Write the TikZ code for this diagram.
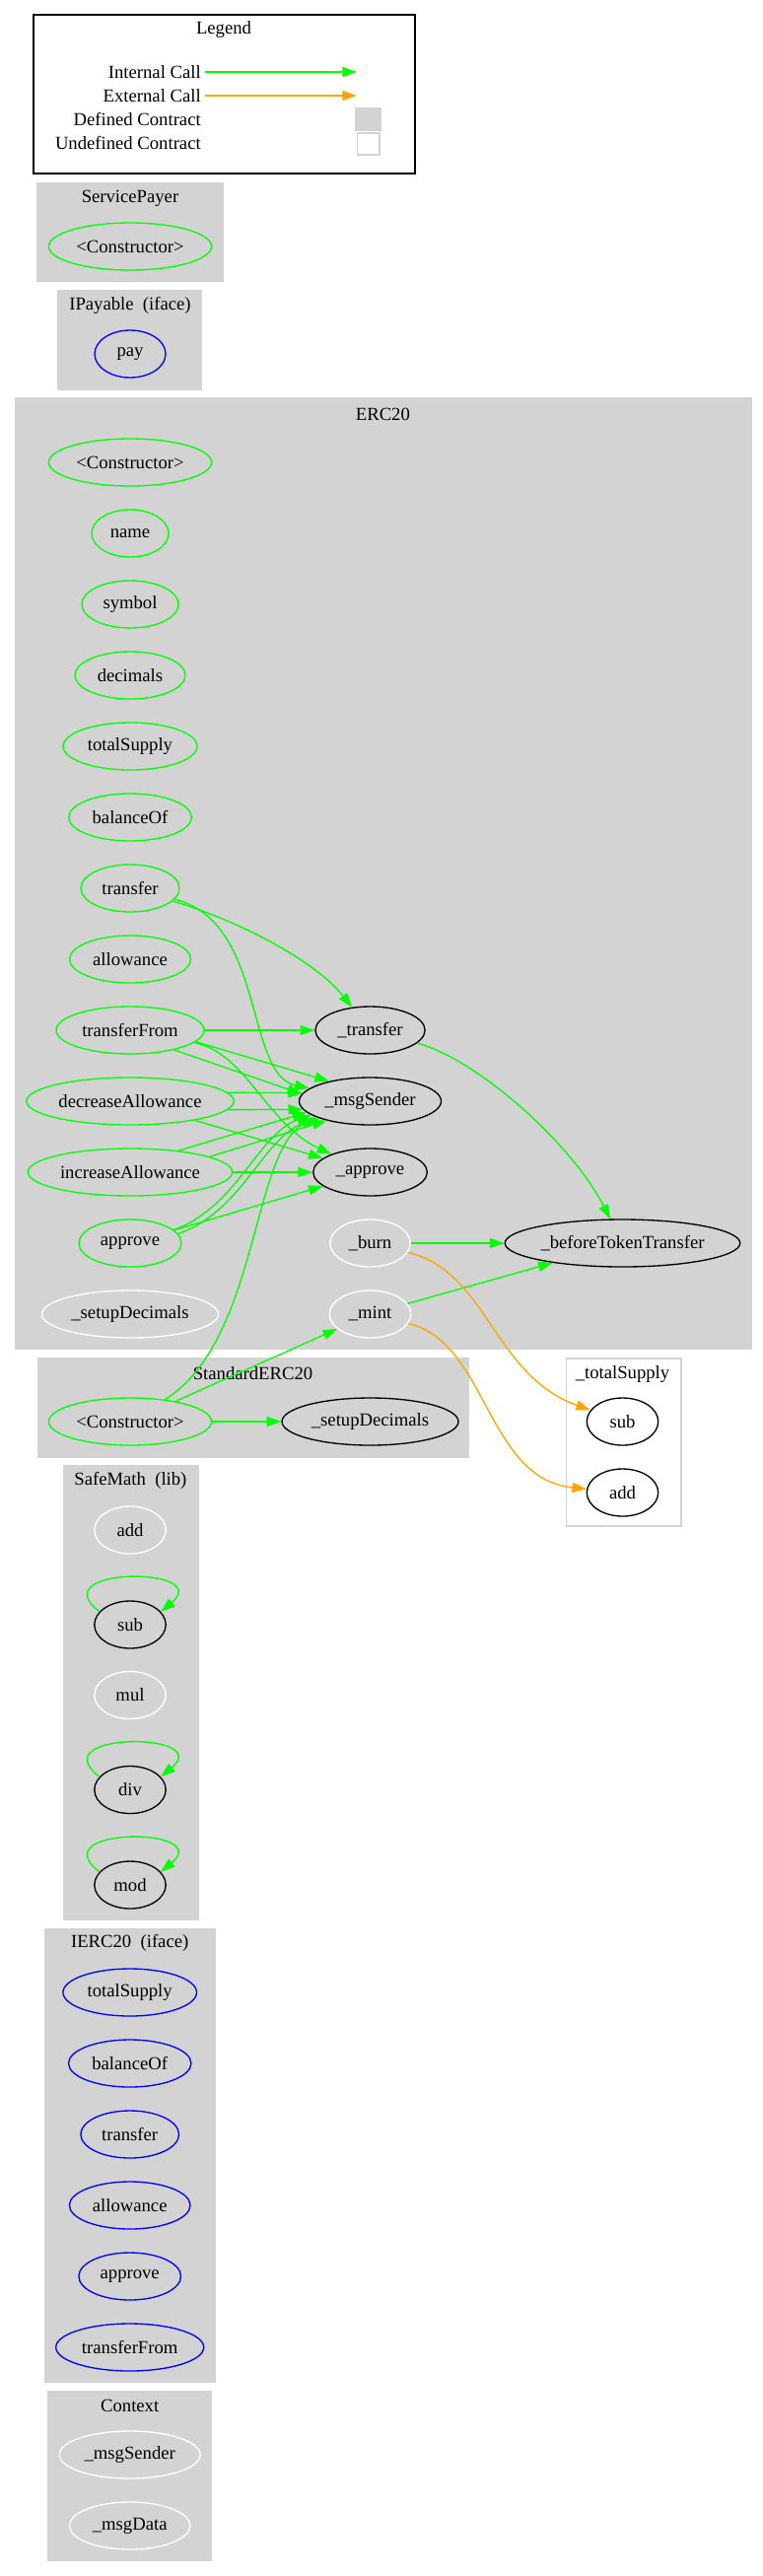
\documentclass[tikz,border=0pt]{standalone}
\usepackage{fontspec}
\setmainfont{Liberation Serif}
\usetikzlibrary{arrows.meta,shapes.geometric}
\definecolor{callgreen}{RGB}{0,255,0}
\definecolor{callorange}{RGB}{255,165,0}
\definecolor{grpgray}{RGB}{211,211,211}
\definecolor{ifblue}{RGB}{0,0,255}

\begin{document}
\begin{tikzpicture}[x=0.75pt, y=-0.75pt,
    fn/.style={ellipse, draw, line width=1pt, minimum height=36pt, inner sep=0pt,
               font=\fontsize{14}{16}\selectfont},
    wd/.style={minimum width={#1*1.5pt}},
    pub/.style={fn, draw=callgreen},
    own/.style={fn, draw=black},
    ifc/.style={fn, draw=ifblue},
    unused/.style={fn, draw=white},
    grp/.style={fill=grpgray, draw=grpgray, line width=1pt},
    lab/.style={font=\fontsize{14}{16}\selectfont, inner sep=0pt},
    call/.style={draw=callgreen, line width=1pt, -{Triangle[length=11pt, width=7.5pt]}},
    xcall/.style={call, draw=callorange}]
  \useasboundingbox (0,0) rectangle (774,2613);

  % legend
  \draw[line width=1pt] (34,15) rectangle (421,176);
  \node[lab] (lgTitle) at (227,30) {Legend};
  \node[lab, anchor=east, inner xsep=3pt] (lgInt)   at (208,73)  {Internal Call};
  \node[lab, anchor=east, inner xsep=3pt] (lgExt)   at (208,97)  {External Call};
  \node[lab, anchor=east, inner xsep=3pt] (lgDef)   at (208,121) {Defined Contract};
  \node[lab, anchor=east, inner xsep=3pt] (lgUndef) at (208,145) {Undefined Contract};
  \coordinate (lgIntEnd) at (362,73);
  \coordinate (lgExtEnd) at (362,97);
  \draw[call]  (lgInt) -- (lgIntEnd);
  \draw[xcall] (lgExt) -- (lgExtEnd);
  \node[fill=grpgray, minimum width=20pt, minimum height=18pt, inner sep=0pt] (lgDefSw) at (373.5,121) {};
  \node[draw=grpgray, line width=1pt, minimum width=17pt, minimum height=16.5pt, inner sep=0pt] (lgUndefSw) at (373.5,146) {};

  % contract boxes
  \draw[grp] (38,186) rectangle (226,285);
  \draw[grp] (59,295) rectangle (204,395);
  \draw[grp] (15.4,404) rectangle (762.4,1368);
  \draw[grp] (38.2,1378) rectangle (475.7,1478);
  \draw[line width=1pt, draw=grpgray, fill=white] (574.4,1378) rectangle (691,1548);
  \draw[grp] (65,1487) rectangle (201,1947);
  \draw[grp] (45.5,1956.5) rectangle (218,2416);
  \draw[grp] (48.7,2425.7) rectangle (214.7,2597);

  \node[lab] (tSP)   at (132,201)      {ServicePayer};
  \node[lab] (tIP)   at (132,310)      {IPayable\ \ (iface)};
  \node[lab] (tERC)  at (388.4,420)    {ERC20};
  \node[lab] (tSERC) at (256.5,1393)   {StandardERC20};
  \node[lab] (tTS)   at (631.5,1394)   {\_totalSupply};
  \node[lab] (tSM)   at (132.4,1502)   {SafeMath\ \ (lib)};
  \node[lab] (tIERC) at (131.7,1971)   {IERC20\ \ (iface)};
  \node[lab] (tCtx)  at (131.7,2440.5) {Context};

  % ServicePayer, IPayable
  \node[pub, wd=82.6] (spCtor) at (132,250) {<Constructor>};
  \node[ifc, wd=36]   (ipPay)  at (132,359) {pay};

  % ERC20
  \node[pub, wd=82.6]  (eCtor)         at (132,469)  {<Constructor>};
  \node[pub, wd=39]    (eName)         at (132,541)  {name};
  \node[pub, wd=49]    (eSymbol)       at (132,613)  {symbol};
  \node[pub, wd=56]    (eDecimals)     at (132,685)  {decimals};
  \node[pub, wd=68]    (eTotal)        at (132,757)  {totalSupply};
  \node[pub, wd=62.3]  (eBalance)      at (132,829)  {balanceOf};
  \node[pub, wd=50]    (eTransfer)     at (132,901)  {transfer};
  \node[pub, wd=61.5]  (eAllowance)    at (132,973)  {allowance};
  \node[pub, wd=75]    (eTransferFrom) at (132,1045) {transferFrom};
  \node[pub, wd=105.2] (eDecrease)     at (132,1117) {decreaseAllowance};
  \node[pub, wd=103.7] (eIncrease)     at (132,1189) {increaseAllowance};
  \node[pub, wd=52]    (eApprove)      at (132,1261) {approve};
  \node[unused, wd=89.5] (eSetup)      at (132,1333) {\_setupDecimals};
  \node[own, wd=55.6]  (eUTransfer)    at (375.5,1045) {\_transfer};
  \node[own, wd=72]    (eMsgSender)    at (375.5,1117) {\_msgSender};
  \node[own, wd=57.8]  (eUApprove)     at (375.5,1189) {\_approve};
  \node[unused, wd=40.7] (eBurn)       at (375.5,1261) {\_burn};
  \node[unused, wd=41.2] (eMint)       at (375.5,1333) {\_mint};
  \node[own, wd=119.3] (eBefore)       at (631.5,1261) {\_beforeTokenTransfer};

  % StandardERC20, _totalSupply
  \node[pub, wd=82.6] (sCtor)  at (132,1442)   {<Constructor>};
  \node[own, wd=89.5] (sSetup) at (375.5,1442) {\_setupDecimals};
  \node[own, wd=36.2] (tsSub)  at (631.5,1442) {sub};
  \node[own, wd=36.2] (tsAdd)  at (631.5,1514) {add};

  % SafeMath
  \node[unused, wd=36.2] (mAdd) at (132,1552)   {add};
  \node[own, wd=36.2]    (mSub) at (132,1648)   {sub};
  \node[unused, wd=36.2] (mMul) at (132,1719.5) {mul};
  \node[own, wd=36.2]    (mDiv) at (132,1815.5) {div};
  \node[own, wd=36.2]    (mMod) at (132,1912)   {mod};

  % IERC20, Context
  \node[ifc, wd=67.8] (iTotal)        at (131.7,2021) {totalSupply};
  \node[ifc, wd=62.2] (iBalance)      at (131.7,2093) {balanceOf};
  \node[ifc, wd=49.8] (iTransfer)     at (131.7,2165) {transfer};
  \node[ifc, wd=61.3] (iAllowance)    at (131.7,2237) {allowance};
  \node[ifc, wd=51.8] (iApprove)      at (131.7,2309) {approve};
  \node[ifc, wd=75]   (iTransferFrom) at (131.7,2381) {transferFrom};
  \node[unused, wd=71.5] (cMsgSender) at (131.7,2490) {\_msgSender};
  \node[unused, wd=61.3] (cMsgData)   at (131.7,2562) {\_msgData};

  % internal calls
  \draw[call] (eTransfer) .. controls (245,935) and (320,975) .. (eUTransfer);
  \draw[call] (eTransfer) .. controls (270,935) and (248,1090) .. (eMsgSender);
  \draw[call] (eTransferFrom) -- (eUTransfer);
  \draw[call] (eTransferFrom.-10) -- (eMsgSender.154);
  \draw[call] (eTransferFrom.-24) -- (eMsgSender.174);
  \draw[call] (eTransferFrom) .. controls (250,1068) and (270,1140) .. (eUApprove);
  \draw[call] (eDecrease.5) -- (eMsgSender.173);
  \draw[call] (eDecrease.-5) -- (eMsgSender.-173);
  \draw[call] (eDecrease) -- (eUApprove);
  \draw[call] (eIncrease.24) -- (eMsgSender.190);
  \draw[call] (eIncrease.11) -- (eMsgSender.204);
  \draw[call] (eIncrease) -- (eUApprove);
  \draw[call] (eApprove) -- (eUApprove);
  \draw[call] (eApprove.17) .. controls (240,1225) and (262,1150) .. (eMsgSender.193);
  \draw[call] (eApprove.11) .. controls (248,1228) and (268,1150) .. (eMsgSender.199);
  \draw[call] (eUTransfer) .. controls (485,1075) and (580,1160) .. (eBefore);
  \draw[call] (eBurn) -- (eBefore);
  \draw[call] (eMint) -- (eBefore);
  \draw[call] (sCtor) .. controls (262,1360) and (255,1170) .. (eMsgSender.196);
  \draw[call] (sCtor) -- (eMint);
  \draw[call] (sCtor) -- (sSetup);
  \draw[call] (mSub.157) .. controls +(-60,-46) and +(55,-46) .. (mSub.23);
  \draw[call] (mDiv.157) .. controls +(-60,-46) and +(55,-46) .. (mDiv.23);
  \draw[call] (mMod.157) .. controls +(-60,-46) and +(55,-46) .. (mMod.23);

  % external calls
  \draw[xcall] (eBurn) .. controls (495,1290) and (500,1395) .. (tsSub);
  \draw[xcall] (eMint) .. controls (495,1362) and (493,1500) .. (tsAdd);
\end{tikzpicture}
\end{document}
